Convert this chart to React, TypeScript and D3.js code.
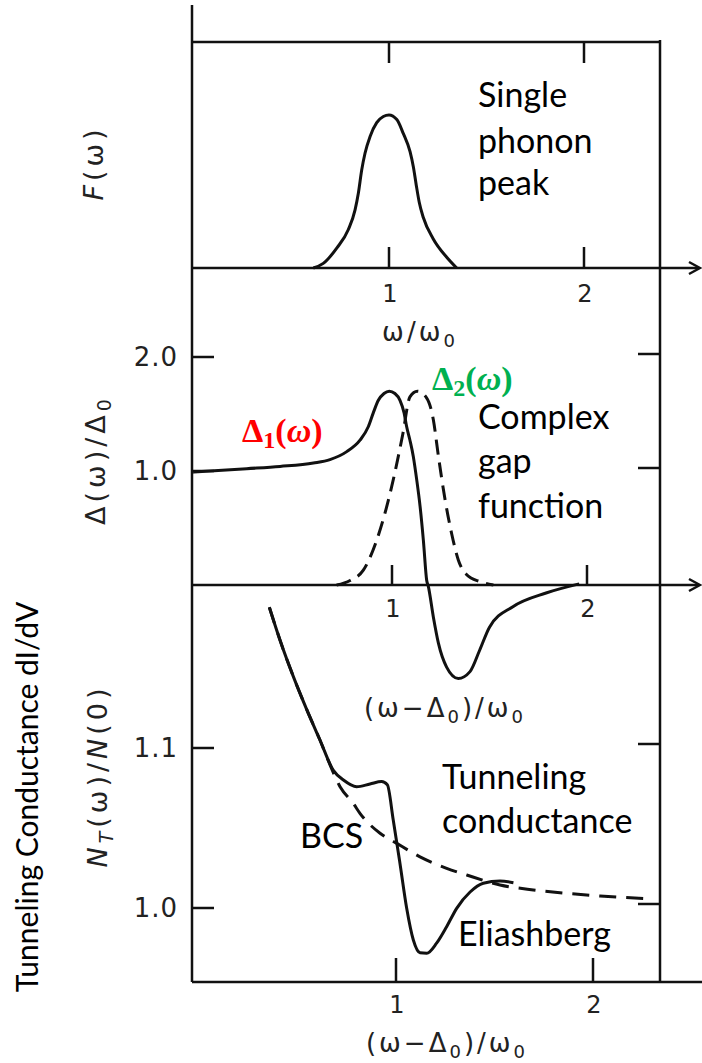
import * as d3 from 'd3'

// top panel: phonon spectrum F(w)
const phononW = [0.612, 0.663, 0.732, 0.791, 0.826, 0.843, 0.86, 0.877, 0.903, 0.937, 0.971, 1.0, 1.04, 1.073, 1.108, 1.125, 1.14, 1.155, 1.176, 1.227, 1.296, 1.347]
const phononF = [0, 0.03, 0.13, 0.25, 0.38, 0.49, 0.64, 0.75, 0.86, 0.95, 0.99, 1.0, 0.97, 0.88, 0.76, 0.66, 0.54, 0.43, 0.33, 0.19, 0.07, 0]

// middle panel: real (solid) and imaginary (dashed) gap
const gap1W = [-0.02, 0.255, 0.426, 0.597, 0.682, 0.768, 0.836, 0.879, 0.904, 0.93, 0.959, 0.986, 1.015, 1.041, 1.062, 1.075, 1.092, 1.109, 1.127, 1.144, 1.161, 1.178, 1.186, 1.212, 1.238, 1.28, 1.34, 1.4, 1.45, 1.5, 1.62, 1.79, 1.96]
const gap1V = [0.99, 1.02, 1.04, 1.07, 1.1, 1.17, 1.27, 1.39, 1.51, 1.62, 1.68, 1.7, 1.68, 1.62, 1.51, 1.39, 1.27, 1.13, 0.92, 0.69, 0.39, 0.04, -0.01, -0.28, -0.51, -0.72, -0.82, -0.76, -0.57, -0.37, -0.19, -0.07, 0.01]
const gap2W = [0.716, 0.785, 0.853, 0.921, 0.998, 1.055, 1.092, 1.13, 1.178, 1.212, 1.238, 1.272, 1.306, 1.34, 1.383, 1.451, 1.52]
const gap2V = [0, 0.04, 0.13, 0.39, 0.86, 1.32, 1.65, 1.7, 1.64, 1.45, 1.13, 0.75, 0.45, 0.22, 0.09, 0.03, 0]

// bottom panel: tunneling density of states
const eliW = [0.357, 0.411, 0.479, 0.547, 0.614, 0.682, 0.733, 0.8, 0.868, 0.927, 0.956, 0.986, 1.02, 1.054, 1.088, 1.122, 1.156, 1.206, 1.257, 1.308, 1.376, 1.443, 1.528, 1.596]
const eliN = [1.188, 1.1675, 1.1446, 1.124, 1.105, 1.086, 1.08, 1.0758, 1.0775, 1.079, 1.077, 1.055, 1.028, 1.0, 0.98, 0.972, 0.9717, 0.978, 0.9883, 0.9998, 1.01, 1.0155, 1.0169, 1.0158]
const bcsW = [0.357, 0.411, 0.479, 0.547, 0.614, 0.66, 0.716, 0.783, 0.817, 0.919, 1.004, 1.122, 1.257, 1.359, 1.528, 1.697, 1.866, 2.036, 2.255]
const bcsN = [1.188, 1.1675, 1.1446, 1.124, 1.105, 1.091, 1.0758, 1.0654, 1.0592, 1.0467, 1.0404, 1.032, 1.0248, 1.0206, 1.0144, 1.0113, 1.0092, 1.0075, 1.006]

const xTicks = [1, 2]
const gapTicks = [1.0, 2.0]
const condTicks = [1.0, 1.1]

const W = 702
const H = 1063
const L = 192
const R = 660
const topY = 42
const axis1 = 268
const axis2 = 585
const axis3 = 982

const xTop = d3.scaleLinear([1, 2], [389, 584])
const yTop = d3.scaleLinear([0, 1], [axis1, 115])
const xMid = d3.scaleLinear([1, 2], [392, 587])
const yMid = d3.scaleLinear([0, 1], [axis2, 471])
const xBot = d3.scaleLinear([1, 2], [396, 593])
const yBot = d3.scaleLinear([1.0, 1.1], [908, 748])

const mkLine = (xs: d3.ScaleLinear<number, number>, ys: d3.ScaleLinear<number, number>) =>
  d3.line<[number, number]>()
    .x(d => xs(d[0]))
    .y(d => ys(d[1]))
    .curve(d3.curveMonotoneX)

const zip = (a: number[], b: number[]) => a.map((v, i) => [v, b[i]] as [number, number])

const scanFont = '"DejaVu Sans", sans-serif'
const noteFont = 'Lato, "Open Sans", sans-serif'
const mathFont = '"Liberation Serif", "DejaVu Serif", serif'
const ink = '#111'

function Arrow({ y }: { y: number }) {
  return (
    <g stroke={ink} strokeWidth={2.5} fill="none">
      <line x1={L} x2={699} y1={y} y2={y} />
      <polyline points={`${689},${y - 6} ${700},${y} ${689},${y + 6}`} />
    </g>
  )
}

// (w - D0)/w0 label used twice
function ShiftLabel({ x, y }: { x: number; y: number }) {
  return (
    <text x={x} y={y}>(ω−Δ<tspan fontSize={18} dy={6}>0</tspan><tspan dy={-6}>)/ω</tspan><tspan fontSize={18} dy={6}>0</tspan></text>
  )
}

export default function App() {
  const topLine = mkLine(xTop, yTop)
  const midLine = mkLine(xMid, yMid)
  const botLine = mkLine(xBot, yBot)

  return (
    <svg width={W} height={H} style={{ position: 'absolute', left: 0, top: 0, background: '#fff' }}>
      {/* frame */}
      <g stroke={ink} strokeWidth={2.5} fill="none">
        <line x1={L} x2={L} y1={5} y2={axis3} />
        <line x1={R} x2={R} y1={topY - 2} y2={axis3} />
        <line x1={L} x2={R} y1={topY} y2={topY} />
        <line x1={L} x2={W} y1={axis3} y2={axis3} />
      </g>
      <Arrow y={axis1} />
      <Arrow y={axis2} />

      {/* ticks */}
      <g stroke={ink} strokeWidth={2.5}>
        {xTicks.map(t => (
          <g key={'t' + t}>
            <line x1={xTop(t)} x2={xTop(t)} y1={topY} y2={topY + 21} />
            <line x1={xTop(t)} x2={xTop(t)} y1={axis1} y2={axis1 - 21} />
            <line x1={xMid(t)} x2={xMid(t)} y1={axis2} y2={axis2 - 20} />
            <line x1={xBot(t)} x2={xBot(t)} y1={axis3} y2={axis3 - 24} />
          </g>
        ))}
        {gapTicks.map(t => (
          <g key={'g' + t}>
            <line x1={L} x2={L + 22} y1={yMid(t)} y2={yMid(t)} />
            <line x1={R} x2={R - 22} y1={yMid(t) - 3} y2={yMid(t) - 3} />
          </g>
        ))}
        {condTicks.map(t => (
          <g key={'c' + t}>
            <line x1={L} x2={L + 22} y1={yBot(t)} y2={yBot(t)} />
            <line x1={R} x2={R - 22} y1={yBot(t) - 4} y2={yBot(t) - 4} />
          </g>
        ))}
      </g>

      {/* tick labels */}
      <g fontFamily={scanFont} fontSize={24} fill="#222" textAnchor="middle">
        {xTicks.map(t => (
          <g key={'l' + t}>
            <text x={xTop(t) + 1} y={302}>{t}</text>
            <text x={xMid(t) + 1} y={617}>{t}</text>
            <text x={xBot(t) + 1} y={1013}>{t}</text>
          </g>
        ))}
      </g>
      <g fontFamily={scanFont} fontSize={26} fill="#222" textAnchor="middle" letterSpacing={3}>
        <text x={420} y={341}>ω/ω<tspan fontSize={18} dy={6}>0</tspan></text>
        <ShiftLabel x={445} y={717} />
        <ShiftLabel x={447} y={1052} />
      </g>
      <g fontFamily={scanFont} fontSize={26} fill="#222" textAnchor="end" letterSpacing={1}>
        {gapTicks.map(t => (
          <text key={'gl' + t} x={178} y={yMid(t) + 9}>{d3.format('.1f')(t)}</text>
        ))}
        {condTicks.map(t => (
          <text key={'cl' + t} x={178} y={yBot(t) + 9}>{d3.format('.1f')(t)}</text>
        ))}
      </g>

      {/* axis titles */}
      <g fontFamily={scanFont} fontSize={27} fill="#222" textAnchor="middle" letterSpacing={4}>
        <text transform="translate(103,163) rotate(-90)"><tspan fontStyle="italic">F</tspan>(ω)</text>
        <text transform="translate(105,460) rotate(-90)">Δ(ω)/Δ<tspan fontSize={19} dy={6}>0</tspan></text>
        <text transform="translate(107,776) rotate(-90)"><tspan fontStyle="italic">N</tspan><tspan fontStyle="italic" fontSize={19} dy={6}>T</tspan><tspan dy={-6}>(ω)/</tspan><tspan fontStyle="italic">N</tspan>(0)</text>
      </g>
      <text transform="translate(38,797) rotate(-90)" fontFamily={noteFont} fontSize={30} textAnchor="middle" fill="#000">Tunneling Conductance dI/dV</text>

      {/* curves */}
      <g fill="none" stroke={ink} strokeWidth={3} strokeLinejoin="round">
        <path d={topLine(zip(phononW, phononF)) ?? ''} />
        <path d={midLine(zip(gap1W, gap1V)) ?? ''} />
        <path d={midLine(zip(gap2W, gap2V)) ?? ''} strokeDasharray="15 8" />
        <path d={botLine(zip(bcsW, bcsN)) ?? ''} strokeDasharray="17 10" />
        <path d={botLine(zip(eliW, eliN)) ?? ''} />
      </g>

      {/* annotations */}
      <g fontFamily={noteFont} fontSize={34} fill="#000">
        <text x={478} y={107}>Single</text>
        <text x={478} y={153}>phonon</text>
        <text x={478} y={195}>peak</text>
        <text x={478} y={429}>Complex</text>
        <text x={478} y={473}>gap</text>
        <text x={478} y={518}>function</text>
        <text x={442} y={789}>Tunneling</text>
        <text x={442} y={833}>conductance</text>
        <text x={300} y={848}>BCS</text>
        <text x={458} y={946}>Eliashberg</text>
      </g>
      <g fontFamily={mathFont} fontSize={34} fontWeight="bold">
        <text x={242} y={442} fill="#ff0000">Δ<tspan fontSize={24} dy={6}>1</tspan><tspan dy={-6}>(</tspan><tspan fontStyle="italic">ω</tspan>)</text>
        <text x={432} y={390} fill="#00b050">Δ<tspan fontSize={24} dy={6}>2</tspan><tspan dy={-6}>(</tspan><tspan fontStyle="italic">ω</tspan>)</text>
      </g>
    </svg>
  )
}
